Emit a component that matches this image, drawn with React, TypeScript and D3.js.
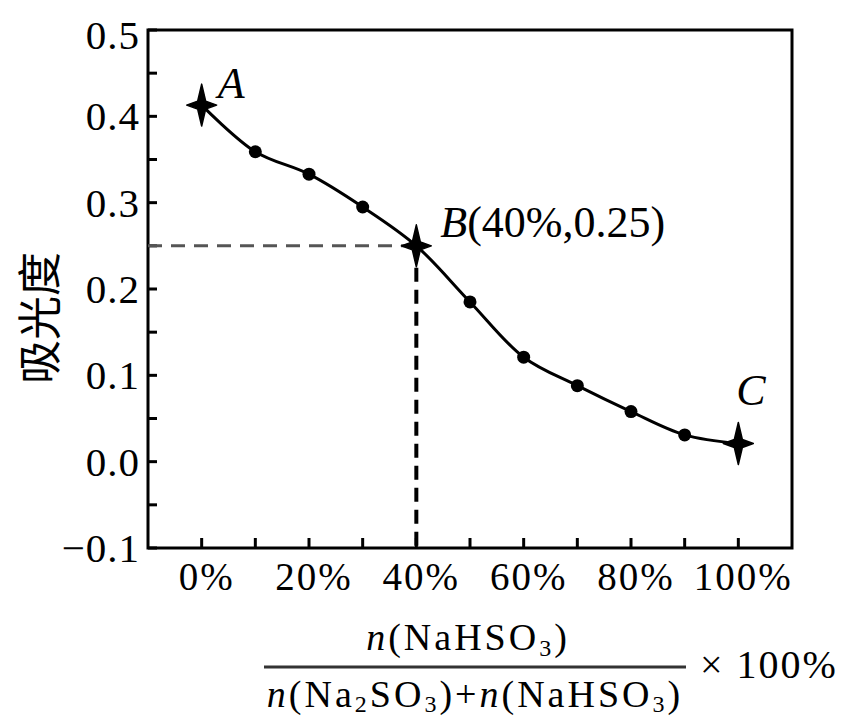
import React, { useEffect, useRef } from 'react';
import * as d3 from 'd3';

// ratio n(NaHSO3) / total, in percent
const ratios = [0, 10, 20, 30, 40, 50, 60, 70, 80, 90, 100];
// absorbance
const absorbance = [0.413, 0.359, 0.333, 0.295, 0.25, 0.185, 0.121, 0.088, 0.058, 0.031, 0.021];
const yTicks = [-0.1, 0.0, 0.1, 0.2, 0.3, 0.4, 0.5];
const xTicks = [0, 20, 40, 60, 80, 100];
const keyPoints = [
  { x: 0, y: 0.413, name: 'A', extra: '' },
  { x: 40, y: 0.25, name: 'B', extra: '(40%,0.25)' },
  { x: 100, y: 0.021, name: 'C', extra: '' },
];

const serif = '"Liberation Serif", "DejaVu Serif", serif';

const App = () => {
  const svgRef = useRef<SVGSVGElement>(null);

  useEffect(() => {
    const svg = d3.select(svgRef.current);
    svg.selectAll('*').remove();

    const width = 848;
    const height = 720;
    const margin = { top: 30, right: 56, bottom: 172, left: 148 };

    svg.attr('width', width).attr('height', height);

    const x = d3.scaleLinear().domain([-10, 110]).range([margin.left, width - margin.right]);
    const y = d3.scaleLinear().domain([-0.1, 0.5]).range([height - margin.bottom, margin.top]);

    // frame
    svg.append('rect')
      .attr('x', x(-10)).attr('y', y(0.5))
      .attr('width', x(110) - x(-10)).attr('height', y(-0.1) - y(0.5))
      .attr('fill', 'none').attr('stroke', '#000').attr('stroke-width', 3);

    // y ticks (inward), major + minor
    const yMinor = d3.range(-0.1, 0.5001, 0.05);
    svg.append('g').selectAll('line')
      .data(yMinor)
      .enter()
      .append('line')
      .attr('x1', x(-10)).attr('x2', x(-10) + 9)
      .attr('y1', d => y(d)).attr('y2', d => y(d))
      .attr('stroke', '#000').attr('stroke-width', 3);

    svg.append('g').selectAll('text')
      .data(yTicks)
      .enter()
      .append('text')
      .attr('x', x(-10) - 8)
      .attr('y', d => y(d) + 14 + (d === 0.5 ? 5 : 0))
      .attr('text-anchor', 'end')
      .attr('font-family', serif)
      .attr('font-size', 41)
      .attr('letter-spacing', 1)
      .text(d => (d < 0 ? '\u2212' + Math.abs(d).toFixed(1) : d.toFixed(1)));

    // x ticks (inward), every 10%
    const xMinor = d3.range(0, 101, 10);
    svg.append('g').selectAll('line')
      .data(xMinor)
      .enter()
      .append('line')
      .attr('x1', d => x(d)).attr('x2', d => x(d))
      .attr('y1', y(-0.1)).attr('y2', y(-0.1) - 10)
      .attr('stroke', '#000').attr('stroke-width', 3);

    svg.append('g').selectAll('text')
      .data(xTicks)
      .enter()
      .append('text')
      .attr('x', d => x(d) + 5)
      .attr('y', y(-0.1) + 42)
      .attr('text-anchor', 'middle')
      .attr('font-family', serif)
      .attr('font-size', 39)
      .attr('letter-spacing', 2)
      .text(d => d + '%');

    // dashed guides to B
    svg.append('line')
      .attr('x1', x(-10)).attr('x2', x(40))
      .attr('y1', y(0.25)).attr('y2', y(0.25))
      .attr('stroke', '#555').attr('stroke-width', 3)
      .attr('stroke-dasharray', '14,9');
    svg.append('line')
      .attr('x1', x(40)).attr('x2', x(40))
      .attr('y1', y(0.25)).attr('y2', y(-0.1))
      .attr('stroke', '#000').attr('stroke-width', 4)
      .attr('stroke-dasharray', '14,8');

    // curve
    const line = d3.line<number>()
      .x((d, i) => x(ratios[i]))
      .y(d => y(d))
      .curve(d3.curveCatmullRom.alpha(0.5));

    svg.append('path')
      .datum(absorbance)
      .attr('d', line)
      .attr('fill', 'none')
      .attr('stroke', '#000')
      .attr('stroke-width', 3);

    // dots, except A/B/C
    const dotIdx = ratios.map((r, i) => i).filter(i => ![0, 40, 100].includes(ratios[i]));
    svg.append('g').selectAll('circle')
      .data(dotIdx)
      .enter()
      .append('circle')
      .attr('cx', i => x(ratios[i]))
      .attr('cy', i => y(absorbance[i]))
      .attr('r', 6.5)
      .attr('fill', '#000');

    // four point stars
    const star = (cx: number, cy: number) => {
      const rv = 21, rh = 15, ri = 4;
      return `M${cx},${cy - rv} L${cx + ri},${cy - ri} L${cx + rh},${cy} L${cx + ri},${cy + ri} ` +
        `L${cx},${cy + rv} L${cx - ri},${cy + ri} L${cx - rh},${cy} L${cx - ri},${cy - ri} Z`;
    };
    svg.append('g').selectAll('path')
      .data(keyPoints)
      .enter()
      .append('path')
      .attr('d', d => star(x(d.x), y(d.y)))
      .attr('fill', '#000')
      .attr('stroke', '#000')
      .attr('stroke-width', 1.5)
      .attr('stroke-linejoin', 'round');

    // point labels
    const labelOffset: Record<string, [number, number]> = { A: [16, -7], B: [24, -9], C: [-2, -39] };
    keyPoints.forEach(p => {
      const [dx, dy] = labelOffset[p.name];
      const t = svg.append('text')
        .attr('x', x(p.x) + dx)
        .attr('y', y(p.y) + dy)
        .attr('font-family', serif)
        .attr('font-size', 44);
      t.append('tspan').attr('font-style', 'italic').text(p.name);
      if (p.extra) t.append('tspan').text(p.extra);
    });

    // y label
    svg.append('text')
      .attr('transform', `translate(56,318) rotate(-90)`)
      .attr('text-anchor', 'middle')
      .attr('font-family', '"Noto Sans CJK SC", sans-serif')
      .attr('font-size', 44)
      .text('吸光度');

    // x label: fraction
    const num = svg.append('text')
      .attr('x', 468).attr('y', 650)
      .attr('text-anchor', 'middle')
      .attr('font-family', serif)
      .attr('font-size', 38)
      .attr('letter-spacing', 3);
    num.append('tspan').attr('font-style', 'italic').text('n');
    num.append('tspan').text('(NaHSO');
    num.append('tspan').attr('font-size', 24).attr('dy', 6).text('3');
    num.append('tspan').attr('dy', -6).text(')');

    svg.append('line')
      .attr('x1', 264).attr('x2', 686)
      .attr('y1', 667).attr('y2', 667)
      .attr('stroke', '#333').attr('stroke-width', 3);

    const den = svg.append('text')
      .attr('x', 475).attr('y', 707)
      .attr('text-anchor', 'middle')
      .attr('font-family', serif)
      .attr('font-size', 38)
      .attr('letter-spacing', 3);
    den.append('tspan').attr('font-style', 'italic').text('n');
    den.append('tspan').text('(Na');
    den.append('tspan').attr('font-size', 24).attr('dy', 5).text('2');
    den.append('tspan').attr('dy', -5).text('SO');
    den.append('tspan').attr('font-size', 24).attr('dy', 5).text('3');
    den.append('tspan').attr('dy', -5).text(')+');
    den.append('tspan').attr('font-style', 'italic').text('n');
    den.append('tspan').text('(NaHSO');
    den.append('tspan').attr('font-size', 24).attr('dy', 5).text('3');
    den.append('tspan').attr('dy', -5).text(')');

    svg.append('text')
      .attr('x', 700).attr('y', 678)
      .attr('font-family', serif)
      .attr('font-size', 40)
      .attr('letter-spacing', 2)
      .text('× 100%');
  }, []);

  return (
    <svg
      ref={svgRef}
      viewBox="0 0 848 720"
      style={{ position: 'absolute', left: 0, top: 0, background: '#fff' }}
    ></svg>
  );
};

export default App;
